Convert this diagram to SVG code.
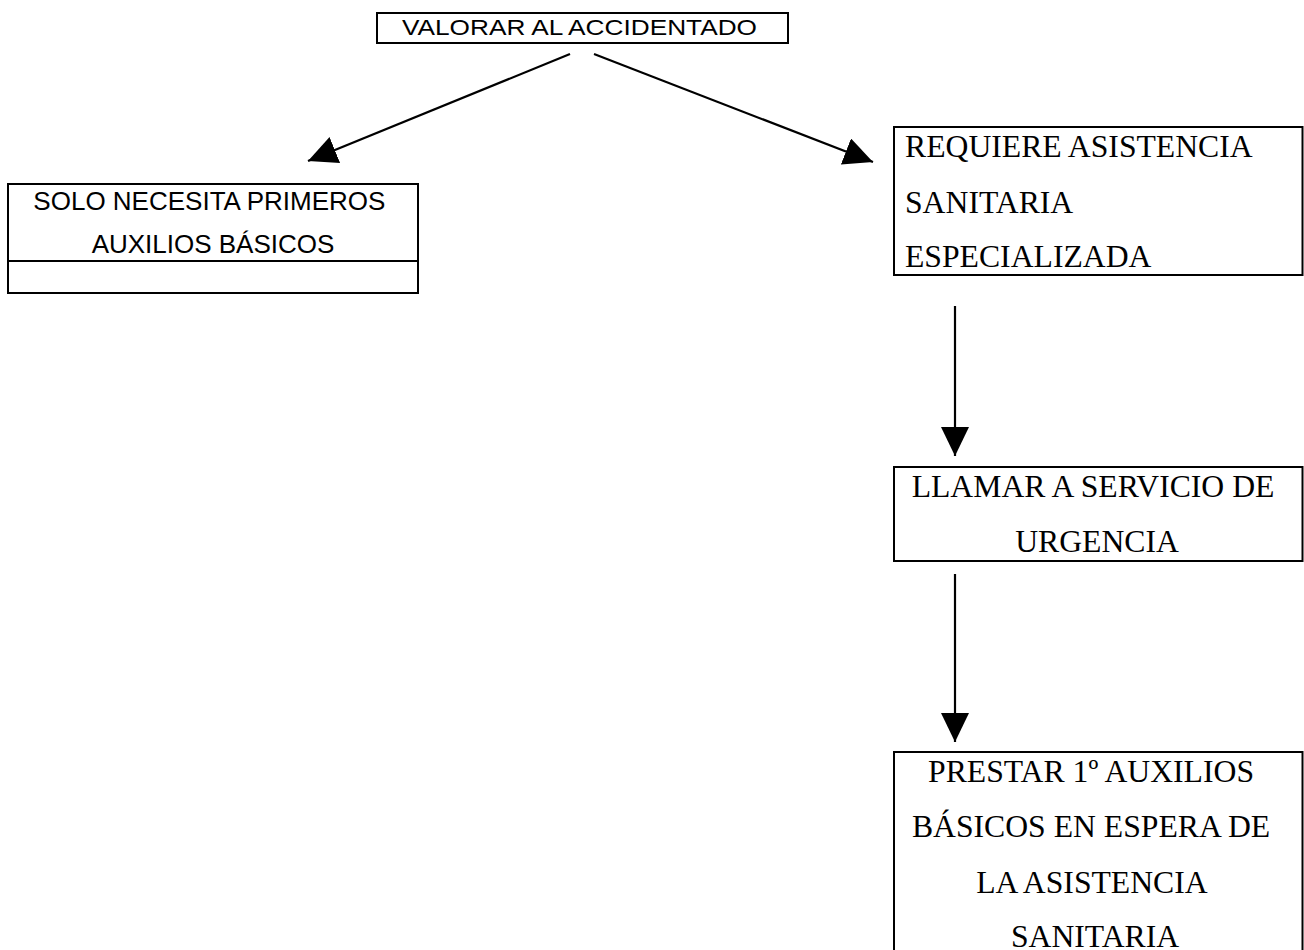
<svg xmlns="http://www.w3.org/2000/svg" width="1304" height="950" viewBox="0 0 1304 950">
  <style>
    .box { fill: #fff; stroke: #000; stroke-width: 2; }
    .sans { font-family: "Liberation Sans", Arial, sans-serif; fill: #000; }
    .serif { font-family: "Liberation Serif", "Times New Roman", serif; font-size: 31.7px; fill: #000; }
    .link { stroke: #000; stroke-width: 2.2; fill: none; marker-end: url(#head); }
  </style>
  <defs>
    <marker id="head" markerUnits="userSpaceOnUse" markerWidth="30" markerHeight="28" refX="29" refY="14" orient="auto">
      <path d="M0,0 L29,14 L0,28 Z" fill="#000"/>
    </marker>
  </defs>
  <rect width="1304" height="950" fill="#fff"/>

  <g id="valorar">
    <rect class="box" x="377" y="13" width="411" height="30"/>
    <text class="sans" x="402" y="35" font-size="22.5" textLength="355" lengthAdjust="spacingAndGlyphs">VALORAR AL ACCIDENTADO</text>
  </g>

  <g id="primeros-auxilios">
    <rect class="box" x="8" y="184" width="410" height="109"/>
    <line x1="8" y1="261" x2="418" y2="261" stroke="#000" stroke-width="2"/>
    <text class="sans" font-size="26" text-anchor="middle">
      <tspan x="213" y="210">SOLO NECESITA PRIMEROS</tspan>
      <tspan x="213" y="253">AUXILIOS BÁSICOS</tspan>
    </text>
  </g>

  <g id="asistencia">
    <rect class="box" x="894" y="127" width="408.5" height="148"/>
    <text class="serif">
      <tspan x="905" y="157">REQUIERE ASISTENCIA</tspan>
      <tspan x="905" y="213">SANITARIA</tspan>
      <tspan x="905" y="267">ESPECIALIZADA</tspan>
    </text>
  </g>

  <g id="llamar">
    <rect class="box" x="894" y="467" width="408.5" height="94"/>
    <text class="serif" text-anchor="middle">
      <tspan x="1097" y="497">LLAMAR A SERVICIO DE</tspan>
      <tspan x="1097" y="552">URGENCIA</tspan>
    </text>
  </g>

  <g id="prestar">
    <rect class="box" x="894" y="752" width="408.5" height="220"/>
    <text class="serif" text-anchor="middle">
      <tspan x="1095" y="782">PRESTAR 1º AUXILIOS</tspan>
      <tspan x="1095" y="837">BÁSICOS EN ESPERA DE</tspan>
      <tspan x="1095" y="893">LA ASISTENCIA</tspan>
      <tspan x="1095" y="947">SANITARIA</tspan>
    </text>
  </g>

  <g id="connectors">
    <line class="link" x1="570" y1="54" x2="308" y2="161"/>
    <line class="link" x1="594" y1="54" x2="873" y2="162"/>
    <line class="link" x1="955" y1="306" x2="955" y2="456"/>
    <line class="link" x1="955" y1="574" x2="955" y2="742"/>
  </g>
</svg>
